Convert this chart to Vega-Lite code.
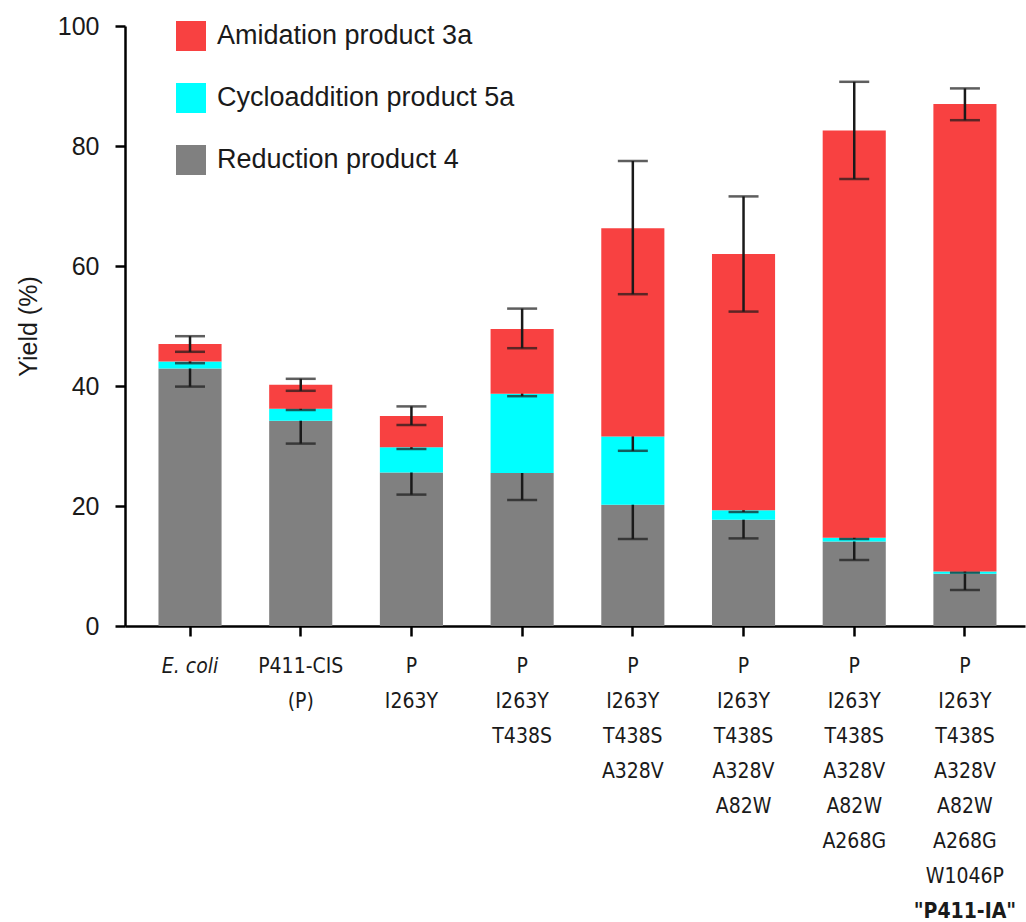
{
  "$schema": "https://vega.github.io/schema/vega-lite/v6.json",
  "width": 900,
  "height": 600,
  "autosize": {"type": "none"},
  "padding": {"left": 125, "top": 26, "right": 1, "bottom": 296},
  "background": "white",
  "data": {
    "values": [
      {"strain": "E. coli", "product": "Reduction product 4", "order": 1, "yield": 42.9, "lo": 39.9, "hi": 45.9},
      {"strain": "E. coli", "product": "Cycloaddition product 5a", "order": 2, "yield": 1.2, "lo": 43.8, "hi": 44.4},
      {"strain": "E. coli", "product": "Amidation product 3a", "order": 3, "yield": 2.9, "lo": 45.7, "hi": 48.3},
      {"strain": "P411-CIS|(P)", "product": "Reduction product 4", "order": 1, "yield": 34.2, "lo": 30.4, "hi": 38.0},
      {"strain": "P411-CIS|(P)", "product": "Cycloaddition product 5a", "order": 2, "yield": 2.0, "lo": 36.0, "hi": 36.4},
      {"strain": "P411-CIS|(P)", "product": "Amidation product 3a", "order": 3, "yield": 4.0, "lo": 39.2, "hi": 41.2},
      {"strain": "P|I263Y", "product": "Reduction product 4", "order": 1, "yield": 25.6, "lo": 21.9, "hi": 29.3},
      {"strain": "P|I263Y", "product": "Cycloaddition product 5a", "order": 2, "yield": 4.2, "lo": 29.5, "hi": 30.1},
      {"strain": "P|I263Y", "product": "Amidation product 3a", "order": 3, "yield": 5.2, "lo": 33.5, "hi": 36.6},
      {"strain": "P|I263Y|T438S", "product": "Reduction product 4", "order": 1, "yield": 25.5, "lo": 21.0, "hi": 30.0},
      {"strain": "P|I263Y|T438S", "product": "Cycloaddition product 5a", "order": 2, "yield": 13.2, "lo": 38.3, "hi": 39.1},
      {"strain": "P|I263Y|T438S", "product": "Amidation product 3a", "order": 3, "yield": 10.8, "lo": 46.3, "hi": 52.9},
      {"strain": "P|I263Y|T438S|A328V", "product": "Reduction product 4", "order": 1, "yield": 20.2, "lo": 14.5, "hi": 25.9},
      {"strain": "P|I263Y|T438S|A328V", "product": "Cycloaddition product 5a", "order": 2, "yield": 11.4, "lo": 29.2, "hi": 34.0},
      {"strain": "P|I263Y|T438S|A328V", "product": "Amidation product 3a", "order": 3, "yield": 34.7, "lo": 55.3, "hi": 77.5},
      {"strain": "P|I263Y|T438S|A328V|A82W", "product": "Reduction product 4", "order": 1, "yield": 17.7, "lo": 14.6, "hi": 20.8},
      {"strain": "P|I263Y|T438S|A328V|A82W", "product": "Cycloaddition product 5a", "order": 2, "yield": 1.6, "lo": 19.0, "hi": 19.6},
      {"strain": "P|I263Y|T438S|A328V|A82W", "product": "Amidation product 3a", "order": 3, "yield": 42.7, "lo": 52.4, "hi": 71.6},
      {"strain": "P|I263Y|T438S|A328V|A82W|A268G", "product": "Reduction product 4", "order": 1, "yield": 14.1, "lo": 11.0, "hi": 17.2},
      {"strain": "P|I263Y|T438S|A328V|A82W|A268G", "product": "Cycloaddition product 5a", "order": 2, "yield": 0.6, "lo": 14.5, "hi": 14.9},
      {"strain": "P|I263Y|T438S|A328V|A82W|A268G", "product": "Amidation product 3a", "order": 3, "yield": 67.9, "lo": 74.5, "hi": 90.7},
      {"strain": "P|I263Y|T438S|A328V|A82W|A268G|W1046P|\"P411-IA\"", "product": "Reduction product 4", "order": 1, "yield": 8.7, "lo": 6.0, "hi": 11.4},
      {"strain": "P|I263Y|T438S|A328V|A82W|A268G|W1046P|\"P411-IA\"", "product": "Cycloaddition product 5a", "order": 2, "yield": 0.4, "lo": 8.9, "hi": 9.3},
      {"strain": "P|I263Y|T438S|A328V|A82W|A268G|W1046P|\"P411-IA\"", "product": "Amidation product 3a", "order": 3, "yield": 77.9, "lo": 84.3, "hi": 89.6}
    ]
  },
  "transform": [
    {"stack": "yield", "groupby": ["strain"], "sort": [{"field": "order", "order": "ascending"}], "as": ["y0", "y1"]}
  ],
  "layer": [
    {
      "encoding": {
        "x": {
          "field": "strain", "type": "nominal", "sort": null,
          "scale": {"paddingInner": 0.43, "paddingOuter": 0.28, "align": 0.54},
          "axis": {
            "title": null,
            "labelExpr": "slice(split(datum.label, '|'), 0, 7)",
            "labelFont": "'Liberation Sans Narrow', 'DejaVu Sans Condensed', 'Liberation Sans', sans-serif",
            "labelFontSize": 21,
            "labelLineHeight": 35,
            "labelPadding": 19,
            "labelAngle": 0,
            "labelBaseline": "top",
            "labelOverlap": false,
            "labelLimit": 0,
            "labelFontStyle": {"condition": {"test": "datum.value == 'E. coli'", "value": "italic"}, "value": "normal"}
          }
        }
      },
      "layer": [
        {
          "transform": [{"filter": "datum.order == 1"}],
          "mark": {"type": "bar"},
          "encoding": {
            "y": {"field": "y0", "type": "quantitative", "scale": {"domain": [0, 100]}, "title": "Yield (%)", "axis": {"values": [0, 20, 40, 60, 80, 100]}},
            "y2": {"field": "y1"},
            "fill": {"field": "product", "type": "nominal", "scale": {"domain": ["Amidation product 3a", "Cycloaddition product 5a", "Reduction product 4"], "range": ["#F84141", "#00FFFF", "#808080"]}}
          }
        },
        {
          "transform": [{"filter": "datum.order == 1"}],
          "mark": {"type": "errorbar", "ticks": {"size": 30, "thickness": 2.5, "color": "#1a1a1a"}, "rule": {"strokeWidth": 2.5, "color": "#1a1a1a"}},
          "encoding": {
            "y": {"field": "lo", "type": "quantitative", "title": "Yield (%)", "axis": {"values": [0, 20, 40, 60, 80, 100]}},
            "y2": {"field": "hi"}
          }
        },
        {
          "transform": [{"filter": "datum.order == 2"}],
          "mark": {"type": "bar"},
          "encoding": {
            "y": {"field": "y0", "type": "quantitative", "title": "Yield (%)", "axis": {"values": [0, 20, 40, 60, 80, 100]}},
            "y2": {"field": "y1"},
            "fill": {"field": "product", "type": "nominal"}
          }
        },
        {
          "transform": [{"filter": "datum.order == 2"}],
          "mark": {"type": "errorbar", "ticks": {"size": 30, "thickness": 2.5, "color": "#1a1a1a"}, "rule": {"strokeWidth": 2.5, "color": "#1a1a1a"}},
          "encoding": {
            "y": {"field": "lo", "type": "quantitative", "title": "Yield (%)", "axis": {"values": [0, 20, 40, 60, 80, 100]}},
            "y2": {"field": "hi"}
          }
        },
        {
          "transform": [{"filter": "datum.order == 3"}],
          "mark": {"type": "bar"},
          "encoding": {
            "y": {"field": "y0", "type": "quantitative", "title": "Yield (%)", "axis": {"values": [0, 20, 40, 60, 80, 100]}},
            "y2": {"field": "y1"},
            "fill": {"field": "product", "type": "nominal"}
          }
        },
        {
          "transform": [{"filter": "datum.order == 3"}],
          "mark": {"type": "errorbar", "ticks": {"size": 30, "thickness": 2.5, "color": "#1a1a1a"}, "rule": {"strokeWidth": 2.5, "color": "#1a1a1a"}},
          "encoding": {
            "y": {"field": "lo", "type": "quantitative", "title": "Yield (%)", "axis": {"values": [0, 20, 40, 60, 80, 100]}},
            "y2": {"field": "hi"}
          }
        }
      ]
    },
    {
      "transform": [{"filter": "datum.order == 3"}],
      "mark": {"type": "tick", "opacity": 0},
      "encoding": {
        "x": {
          "field": "strain", "type": "nominal", "sort": null,
          "axis": {
            "orient": "bottom",
            "title": null,
            "domain": false,
            "tickOpacity": 0,
            "labelExpr": "length(split(datum.label, '|')) > 7 ? split(datum.label, '|')[7] : ''",
            "labelFont": "'Liberation Sans Narrow', 'DejaVu Sans Condensed', 'Liberation Sans', sans-serif",
            "labelFontSize": 21,
            "labelFontWeight": "bold",
            "labelLineHeight": 35,
            "labelPadding": 264,
            "labelAngle": 0,
            "labelBaseline": "top",
            "labelOverlap": false,
            "labelLimit": 0
          }
        },
        "y": {"field": "y1", "type": "quantitative", "title": "Yield (%)", "axis": {"values": [0, 20, 40, 60, 80, 100]}}
      }
    }
  ],
  "resolve": {"axis": {"x": "independent"}},
  "config": {
    "view": {"stroke": null},
    "axis": {
      "grid": false,
      "domainColor": "#000000",
      "domainWidth": 2.5,
      "tickColor": "#000000",
      "tickWidth": 2.5,
      "tickSize": 10,
      "labelColor": "#1a1a1a",
      "titleColor": "#1a1a1a"
    },
    "axisY": {
      "labelFont": "Liberation Sans",
      "labelFontSize": 25,
      "labelPadding": 16,
      "titleFont": "Liberation Sans",
      "titleFontSize": 25,
      "titleFontWeight": "normal",
      "titlePadding": 16
    },
    "legend": {
      "orient": "none",
      "legendX": 51,
      "legendY": -5,
      "title": null,
      "padding": 0,
      "symbolType": "square",
      "symbolSize": 900,
      "symbolStrokeWidth": 0,
      "symbolOpacity": 1,
      "labelFont": "Liberation Sans",
      "labelFontSize": 27,
      "labelColor": "#1a1a1a",
      "labelOffset": 11,
      "rowPadding": 32,
      "labelLimit": 0
    }
  }
}
